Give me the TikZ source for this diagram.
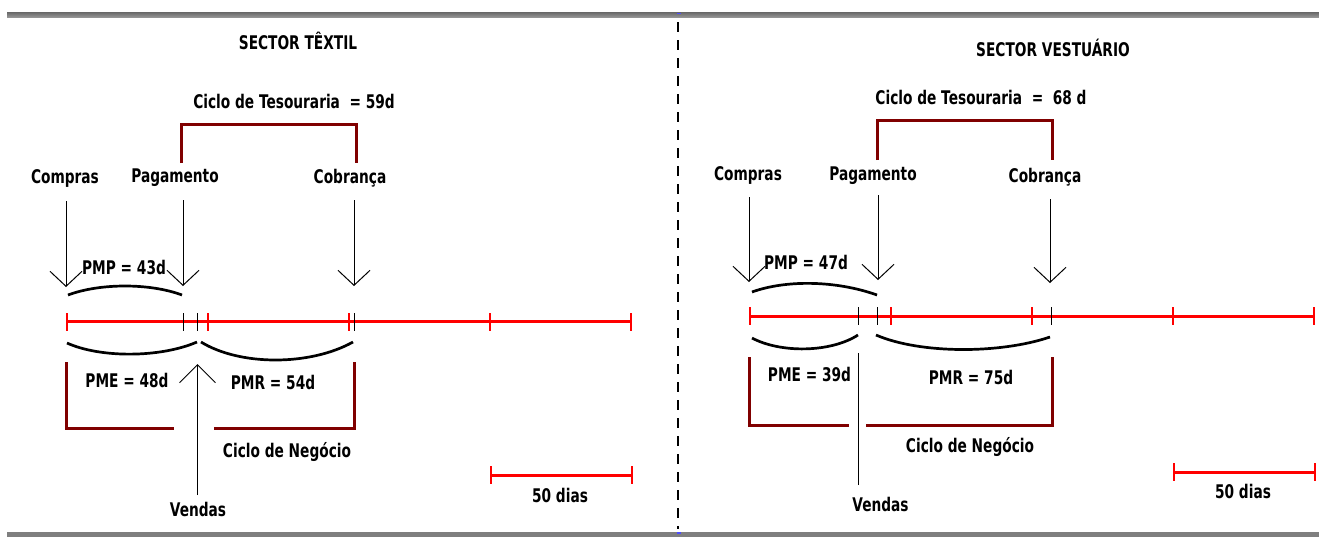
\documentclass[tikz,border=0pt]{standalone}
\usepackage{fontspec}
\setmainfont{DejaVu Sans}[FakeStretch=0.73]
\usetikzlibrary{arrows.meta}
\definecolor{bracketred}{HTML}{800000}
\definecolor{bargray}{HTML}{7F7F7F}
\tikzset{
  lbl/.style={font=\bfseries\fontsize{9.4}{11}\selectfont, inner sep=0pt, text=black},
  brk/.style={draw=bracketred, line width=1.5pt},
  tl/.style={draw=red, line width=1.5pt},
  rtick/.style={draw=red, line width=1.4pt},
  btick/.style={draw=black, line width=0.5pt},
  brace/.style={draw=black, line width=1.35pt},
  arr/.style={draw=black, line width=0.5pt, -{Straight Barb[length=7.5pt,width=16pt,line width=0.5pt]}},
  bigarr/.style={draw=black, line width=0.5pt, -{Straight Barb[length=9pt,width=18pt,line width=0.5pt]}},
  plain/.style={draw=black, line width=0.5pt},
  divider/.style={draw=black, line width=1.3pt, dash pattern=on 5pt off 4pt}
}
\begin{document}
\begin{tikzpicture}[x=0.5pt, y=-0.5pt]
\useasboundingbox (0,0) rectangle (1319,537);
% frame bars
\shade[top color=bargray!85!black, bottom color=bargray!80!white] (7,12.5) rectangle (1319,17.5);
\fill[bargray] (7,532) rectangle (1319,537);
% divider
\coordinate (dtop) at (678,22);
\coordinate (dbot) at (678,529);
\draw[divider] (dtop) -- (dbot);
\fill[blue!70] (677,12.5) rectangle (681,14);
\fill[blue!70] (677,532) rectangle (681,533.5);

% ================= LEFT: SECTOR TEXTIL =================
\node[lbl] (tit1) at (298,41) {SECTOR TÊXTIL};
\node[lbl] (ct1) at (294,101.5) {Ciclo de Tesouraria\ \ = 59d};
\draw[brk] (181,163) -- (181,124) -- (356,124) -- (356,163);

\node[lbl] (comp1) at (65,178) {Compras};
\node[lbl] (pag1) at (175,178) {Pagamento};
\node[lbl] (cob1) at (350,178) {Cobrança};

\coordinate (comp1s) at (66,201);
\coordinate (comp1e) at (66,287);
\coordinate (pag1s) at (183,200);
\coordinate (pag1e) at (183,286);
\coordinate (cob1s) at (354,200);
\coordinate (cob1e) at (354,286);
\draw[arr] (comp1s) -- (comp1e);
\draw[arr] (pag1s) -- (pag1e);
\draw[arr] (cob1s) -- (cob1e);

\node[lbl] (pmp1) at (124,267) {PMP = 43d};
\draw[brace] (68,295) .. controls (100,283) and (150,283) .. (182,295);

% timeline
\coordinate (tl1a) at (67,321.7);
\coordinate (tl1b) at (631,321.7);
\draw[tl] (tl1a) -- (tl1b);
\foreach \x in {67,208,349,490,631} \draw[rtick] (\x,313) -- (\x,330.5);
\foreach \x in {183,197.5,354} \draw[btick] (\x,313) -- (\x,330.5);

% lower braces
\draw[brace] (67,343) .. controls (100,358) and (160,358) .. (197,342);
\draw[brace] (201,342) .. controls (240,366) and (310,366) .. (353,342);
\node[lbl] (pme1) at (127,380) {PME = 48d};
\node[lbl] (pmr1) at (273,382) {PMR = 54d};

% vendas
\coordinate (ven1s) at (197.5,495);
\coordinate (ven1e) at (197.5,364);
\draw[bigarr] (ven1s) -- (ven1e);
\node[lbl] (ven1) at (198,509) {Vendas};

% ciclo de negocio bracket
\draw[brk] (66,362) -- (66,428) -- (174,428);
\draw[brk] (214,428) -- (354,428) -- (354,362);
\node[lbl] (cn1) at (287,452) {Ciclo de Negócio};

% scale
\draw[tl] (491,475) -- (632,475);
\draw[rtick] (491,466) -- (491,484);
\draw[rtick] (632,466) -- (632,484);
\node[lbl] (sc1) at (560,495) {50 dias};

% ================= RIGHT: SECTOR VESTUARIO =================
\node[lbl] (tit2) at (1053,48) {SECTOR VESTUÁRIO};
\node[lbl] (ct2) at (981,97) {Ciclo de Tesouraria\ \ =\ \ 68 d};
\draw[brk] (877,160) -- (877,120) -- (1052,120) -- (1052,160);

\node[lbl] (comp2) at (748,175) {Compras};
\node[lbl] (pag2) at (873,176) {Pagamento};
\node[lbl] (cob2) at (1045,177) {Cobrança};

\coordinate (comp2s) at (749,197);
\coordinate (comp2e) at (749,282);
\coordinate (pag2s) at (878,195);
\coordinate (pag2e) at (878,280);
\coordinate (cob2s) at (1050,199);
\coordinate (cob2e) at (1050,283);
\draw[arr] (comp2s) -- (comp2e);
\draw[arr] (pag2s) -- (pag2e);
\draw[arr] (cob2s) -- (cob2e);

\node[lbl] (pmp2) at (806,262) {PMP = 47d};
\draw[brace] (752,292) .. controls (785,280) and (835,280) .. (877,295);

% timeline
\coordinate (tl2a) at (750,316);
\coordinate (tl2b) at (1314,316);
\draw[tl] (tl2a) -- (tl2b);
\foreach \x in {750,891,1032,1173,1314} \draw[rtick] (\x,307) -- (\x,325);
\foreach \x in {858,877,1051} \draw[btick] (\x,307) -- (\x,325);

% lower braces
\draw[brace] (752,338) .. controls (780,353) and (830,353) .. (858,335);
\draw[brace] (876,335) .. controls (920,354) and (1000,354) .. (1050,337);
\node[lbl] (pme2) at (809.5,374) {PME = 39d};
\node[lbl] (pmr2) at (971,377) {PMR = 75d};

% vendas
\coordinate (ven2s) at (858,485);
\coordinate (ven2e) at (858,353);
\draw[plain] (ven2s) -- (ven2e);
\node[lbl] (ven2) at (880.5,504) {Vendas};

% ciclo de negocio bracket
\draw[brk] (749,357) -- (749,425) -- (849,425);
\draw[brk] (866,425) -- (1052,425) -- (1052,357);
\node[lbl] (cn2) at (970,447) {Ciclo de Negócio};

% scale
\draw[tl] (1174,472) -- (1315,472);
\draw[rtick] (1174,463) -- (1174,481);
\draw[rtick] (1315,463) -- (1315,481);
\node[lbl] (sc2) at (1243,491) {50 dias};
\end{tikzpicture}
\end{document}
